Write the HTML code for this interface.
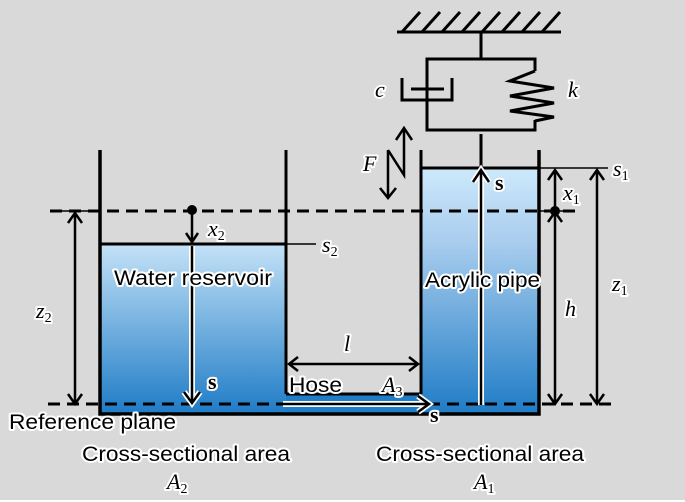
<!DOCTYPE html>
<html><head><meta charset="utf-8"><style>
html,body{margin:0;padding:0;background:#fff}
svg{display:block}
text{font-family:"Liberation Sans",sans-serif;paint-order:stroke;stroke:#fff;stroke-width:4px;stroke-linejoin:round;fill:#000}
.m{font-family:"Liberation Serif",serif;font-style:italic}
</style></head><body>
<svg width="685" height="502" viewBox="0 0 685 502" xmlns="http://www.w3.org/2000/svg">
<defs>
<linearGradient id="g" x1="0" y1="0" x2="0" y2="1">
<stop offset="0" stop-color="#cde9fb"/><stop offset="0.3" stop-color="#a9cdee"/><stop offset="1" stop-color="#1f7cc6"/>
</linearGradient>
<linearGradient id="g2" x1="0" y1="0" x2="0" y2="1">
<stop offset="0" stop-color="#c4e2f7"/><stop offset="1" stop-color="#1f7cc6"/>
</linearGradient>
</defs>
<rect width="685" height="500" fill="#d9d9d9"/>
<g stroke="#000" stroke-width="3" fill="none">
<line x1="397" y1="32" x2="561" y2="32"/>
<path d="M402 32 L420 12 M422 32 L440 12 M442 32 L460 12 M462 32 L480 12 M482 32 L500 12 M502 32 L520 12 M522 32 L540 12 M542 32 L560 12"/>
<line x1="481" y1="32" x2="481" y2="59"/>
<path d="M427 130 V59 H535 V71"/>
<path d="M427 99 V130 H535 V120"/>
<path d="M402 78 V100 H452 V78 M411 89 H444"/>
<path d="M535 71 L510 81 L554 88 L510 96 L554 103 L510 111 L554 117 L535 121"/>
<line x1="481" y1="134" x2="481" y2="167"/>
</g>
<rect x="100" y="244" width="186" height="170" fill="url(#g2)"/>
<rect x="421" y="168" width="118" height="246" fill="url(#g)"/>
<rect x="286" y="395" width="135" height="19" fill="#1f7cc6"/>
<g stroke="#000" fill="none">
<path d="M100 150 V414 H539 V150" stroke-width="3.5"/>
<line x1="286" y1="150" x2="286" y2="394" stroke-width="3"/>
<line x1="421" y1="150" x2="421" y2="394" stroke-width="3"/>
<line x1="286" y1="394" x2="421" y2="394" stroke-width="3"/>
<line x1="100" y1="244" x2="286" y2="244" stroke-width="3"/>
<line x1="286" y1="244" x2="316" y2="244" stroke-width="1.5"/>
<line x1="421" y1="168" x2="539" y2="168" stroke-width="3"/>
<line x1="539" y1="168" x2="608" y2="168" stroke-width="1.5"/>
<line x1="50" y1="211" x2="100" y2="211" stroke-width="1.5"/>
<line x1="50" y1="211" x2="578" y2="211" stroke-width="3" stroke-dasharray="12,7"/>
<line x1="48" y1="404" x2="618" y2="404" stroke-width="3" stroke-dasharray="12,7"/>
<path d="M388 150 V197 M380 188 L388 198 L396 188 M388 150 L404 175 V129 M396 140 L404 128 L412 140" stroke-width="2.5"/>
<path d="M75 213 V402 M68 223 L75 213 L82 223 M68 394 L75 404 L82 394" stroke-width="2.5"/>
<path d="M192 211 V242 M186 233 L192 242 L198 233" stroke-width="2.5"/>
<path d="M555 170 V210 M548 180 L555 170 L562 180 M555 213 V402 M548 222 L555 212 L562 222 M548 394 L555 404 L562 394" stroke-width="2.5"/>
<line x1="540" y1="211" x2="575" y2="211" stroke-width="1.5"/>
<path d="M597 170 V402 M590 180 L597 170 L604 180 M590 394 L597 404 L604 394" stroke-width="2.5"/>
<path d="M289 364 H418 M298 357 L289 364 L298 371 M409 357 L418 364 L409 371" stroke-width="2.5"/>
</g>
<circle cx="192" cy="210" r="5" fill="#000"/>
<circle cx="555" cy="211" r="5" fill="#000"/>
<g fill="none" stroke-linecap="butt">
<g stroke="#fff" stroke-width="6">
<path d="M192 246 V402 M184 392 L192 403 L200 392"/>
<path d="M481 405 V172 M473 182 L481 170 L489 182"/>
<path d="M283 404 H428 M418 396 L429 404 L418 412"/>
</g>
<g stroke="#000" stroke-width="2.5">
<path d="M192 246 V402 M184 392 L192 403 L200 392"/>
<path d="M481 405 V172 M473 182 L481 170 L489 182"/>
<path d="M283 404 H428 M418 396 L429 404 L418 412"/>
</g>
</g>
<g font-size="21">
<text x="114" y="285" textLength="158" lengthAdjust="spacingAndGlyphs">Water reservoir</text>
<text x="425" y="287" textLength="115" lengthAdjust="spacingAndGlyphs">Acrylic pipe</text>
<text x="289" y="392" textLength="53" lengthAdjust="spacingAndGlyphs">Hose</text>
<text x="9" y="429" textLength="167" lengthAdjust="spacingAndGlyphs">Reference plane</text>
<text x="82" y="461" textLength="208" lengthAdjust="spacingAndGlyphs">Cross-sectional area</text>
<text x="376" y="461" textLength="208" lengthAdjust="spacingAndGlyphs">Cross-sectional area</text>
</g>
<g font-size="22">
<text class="m" x="375" y="97">c</text>
<text class="m" x="568" y="97">k</text>
<text class="m" x="363" y="171">F</text>
<text class="m" x="208" y="236">x<tspan font-size="14" dy="4" font-style="normal">2</tspan></text>
<text class="m" x="322" y="252">s<tspan font-size="14" dy="4" font-style="normal">2</tspan></text>
<text class="m" x="613" y="176">s<tspan font-size="14" dy="4" font-style="normal">1</tspan></text>
<text class="m" x="563" y="200">x<tspan font-size="14" dy="4" font-style="normal">1</tspan></text>
<text class="m" x="612" y="291">z<tspan font-size="14" dy="4" font-style="normal">1</tspan></text>
<text class="m" x="565" y="316">h</text>
<text class="m" x="36" y="318">z<tspan font-size="14" dy="4" font-style="normal">2</tspan></text>
<text class="m" x="344" y="351">l</text>
<text class="m" x="382" y="392">A<tspan font-size="14" dy="4" font-style="normal">3</tspan></text>
<text class="m" x="167" y="489">A<tspan font-size="14" dy="4" font-style="normal">2</tspan></text>
<text class="m" x="474" y="489">A<tspan font-size="14" dy="4" font-style="normal">1</tspan></text>
</g>
<g font-size="22" font-weight="bold">
<text x="208" y="389" style="font-family:'Liberation Serif',serif">s</text>
<text x="495" y="190" style="font-family:'Liberation Serif',serif">s</text>
<text x="430" y="422" style="font-family:'Liberation Serif',serif">s</text>
</g>
</svg>
</body></html>
